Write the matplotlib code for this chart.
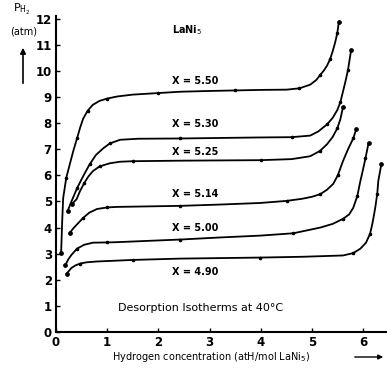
import matplotlib
matplotlib.use('Agg')
import matplotlib.pyplot as plt

# --- data: desorption isotherms LaNi5 at 40 C ---
x_550 = [0.10, 0.12, 0.14, 0.20, 0.27, 0.34, 0.41, 0.47, 0.53, 0.62, 0.72, 0.85, 1.0, 1.2, 1.5, 2.0,
         2.42, 3.0, 3.5, 4.0, 4.5, 4.75, 4.96, 5.08, 5.16, 5.23, 5.29, 5.35, 5.40, 5.45, 5.49, 5.52]
y_550 = [3.04, 4.2, 5.13, 5.9, 6.43, 6.95, 7.41, 7.82, 8.17, 8.48, 8.70, 8.85, 8.94, 9.02, 9.09, 9.15,
         9.20, 9.23, 9.25, 9.27, 9.28, 9.33, 9.47, 9.65, 9.85, 10.02, 10.2, 10.45, 10.75, 11.1, 11.45, 11.86]

x_530 = [0.23, 0.28, 0.33, 0.41, 0.50, 0.58, 0.66, 0.78, 0.92, 1.05, 1.25, 1.6, 2.42, 3.2, 4.0, 4.6,
         4.96, 5.12, 5.29, 5.40, 5.49, 5.55, 5.60, 5.65, 5.70, 5.76]
y_530 = [4.64, 4.9, 5.13, 5.5, 5.85, 6.15, 6.43, 6.78, 7.03, 7.22, 7.36, 7.40, 7.41, 7.43, 7.45, 7.46,
         7.52, 7.68, 7.95, 8.2, 8.5, 8.8, 9.2, 9.6, 10.05, 10.8]

x_525 = [0.31, 0.40, 0.47, 0.55, 0.63, 0.72, 0.85, 1.05, 1.25, 1.5, 2.42, 3.2, 4.0, 4.6, 4.96, 5.15,
         5.29, 5.40, 5.49, 5.55, 5.60]
y_525 = [4.90, 5.08, 5.4, 5.7, 5.95, 6.16, 6.34, 6.46, 6.52, 6.54, 6.56, 6.57, 6.58, 6.62, 6.73, 6.93,
         7.19, 7.47, 7.80, 8.15, 8.60]

x_514 = [0.27, 0.33, 0.40, 0.53, 0.65, 0.80, 1.0, 1.19, 1.8, 2.42, 3.2, 3.98, 4.5, 4.8, 5.0, 5.16,
         5.29, 5.41, 5.5, 5.6, 5.7, 5.8, 5.86]
y_514 = [3.80, 3.95, 4.10, 4.37, 4.57, 4.71, 4.77, 4.79, 4.81, 4.83, 4.88, 4.94, 5.02, 5.10, 5.18, 5.28,
         5.45, 5.67, 6.0, 6.54, 7.0, 7.41, 7.76]

x_500 = [0.18, 0.24, 0.30, 0.41, 0.55, 0.72, 1.0, 1.19, 1.8, 2.42, 3.2, 3.98, 4.63, 5.16, 5.4, 5.6,
         5.72, 5.8, 5.88, 5.94, 5.97, 6.04, 6.10]
y_500 = [2.55, 2.78, 2.95, 3.19, 3.34, 3.42, 3.43, 3.44, 3.49, 3.54, 3.62, 3.69, 3.78, 4.00, 4.14, 4.33,
         4.5, 4.75, 5.2, 5.78, 6.03, 6.65, 7.24]

x_490 = [0.21, 0.30, 0.38, 0.47, 0.6, 0.80, 1.5, 2.42, 3.2, 3.98, 4.8, 5.6, 5.8, 5.94, 6.05, 6.13,
         6.18, 6.23, 6.27, 6.29, 6.35]
y_490 = [2.24, 2.45, 2.55, 2.62, 2.67, 2.70, 2.76, 2.81, 2.83, 2.85, 2.88, 2.93, 3.02, 3.19, 3.42, 3.76,
         4.2, 4.75, 5.3, 5.78, 6.43]

series = [
    (x_550, y_550, 'X = 5.50', 9.62),
    (x_530, y_530, 'X = 5.30', 7.95),
    (x_525, y_525, 'X = 5.25', 6.88),
    (x_514, y_514, 'X = 5.14', 5.29),
    (x_500, y_500, 'X = 5.00', 4.00),
    (x_490, y_490, 'X = 4.90', 2.28),
]
y_ticks = list(range(0, 13))
x_ticks = list(range(0, 7))

# --- plot ---
fig = plt.figure(figsize=(3.87, 3.70), dpi=100)
ax = fig.add_axes([56/387, 38/370, 331/387, 316/370])

for xs, ys, lbl, ly in series:
    ax.plot(xs, ys, color='black', lw=1.3, solid_joinstyle='round')
    # small dots at the plateau points, like the scan
    ax.plot(xs[::3], ys[::3], 'o', color='black', ms=1.6)
    # end points carry a dot too
    ax.plot([xs[0], xs[-1]], [ys[0], ys[-1]], 'o', color='black', ms=2.4)
    ax.text(2.26, ly, lbl, fontsize=7, ha='left', va='center', fontweight='bold')

ax.text(2.27, 11.56, 'LaNi$_5$', fontsize=7, ha='left', va='center', fontweight='bold')
ax.text(1.21, 0.91, 'Desorption Isotherms at 40°C', fontsize=8, ha='left', va='center')

ax.set_xlim(0, 6.46)
ax.set_ylim(0, 12.1)
ax.set_xticks(x_ticks)
ax.set_yticks(y_ticks)
ax.tick_params(direction='in', length=3, width=1, labelsize=8.5, pad=3)
for lab in ax.get_xticklabels() + ax.get_yticklabels():
    lab.set_fontweight('bold')
for s in ['top', 'right']:
    ax.spines[s].set_visible(False)
for s in ['left', 'bottom']:
    ax.spines[s].set_linewidth(1.5)

# axis labels done as figure text like the scan
fig.text(112/387, 1 - 357/370, 'Hydrogen concentration (atH/mol LaNi$_5$)',
         fontsize=7, ha='left', va='center')
ax.annotate('', xy=(386/387, 1 - 357/370), xytext=(352/387, 1 - 357/370),
            xycoords='figure fraction', textcoords='figure fraction',
            arrowprops=dict(arrowstyle='-|>', color='black', lw=1, mutation_scale=7))
fig.text(13/387, 1 - 9/370, 'P$_{\\mathrm{H}_2}$', fontsize=8, ha='left', va='center')
fig.text(24/387, 1 - 32/370, '(atm)', fontsize=7, ha='center', va='center')
ax.annotate('', xy=(23/387, 1 - 45/370), xytext=(23/387, 1 - 86/370),
            xycoords='figure fraction', textcoords='figure fraction',
            arrowprops=dict(arrowstyle='-|>', color='black', lw=1.2, mutation_scale=8))

plt.savefig('out.png', dpi=100)
